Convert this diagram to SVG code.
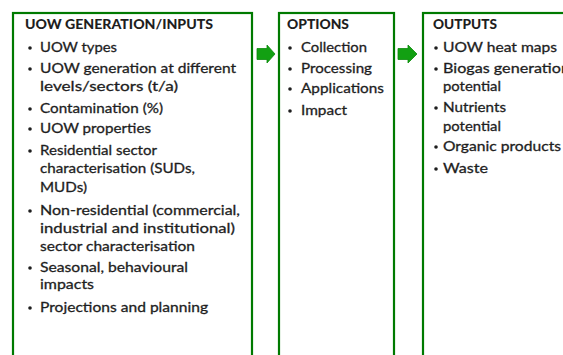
<svg xmlns="http://www.w3.org/2000/svg" width="563" height="355" viewBox="0 0 563 355">
<style>
.box{fill:#fff;stroke:#007a00;stroke-width:2.2}
.t{font-family:Lato,"Open Sans","Liberation Sans",sans-serif;font-size:14px;fill:#1e1e1e;stroke:#1e1e1e;stroke-width:0.3}
.h{font-family:Lato,"Open Sans","Liberation Sans",sans-serif;font-size:14px;font-weight:900;fill:#1e1e1e}
.b{fill:#1e1e1e}
.arr{fill:#12a012;stroke:#0b8a0b;stroke-width:0.8}
</style>
<rect width="563" height="355" fill="#fff"/>
<g id="inputs">
<rect class="box" x="13" y="13" width="239" height="360"/>
<text class="h" x="25" y="29" textLength="188" lengthAdjust="spacingAndGlyphs">UOW GENERATION/INPUTS</text>
<g class="b"><circle cx="30" cy="48" r="1.8"/><circle cx="30" cy="69" r="1.8"/><circle cx="30" cy="109" r="1.8"/><circle cx="30" cy="129" r="1.8"/><circle cx="30" cy="151" r="1.8"/><circle cx="30" cy="211" r="1.8"/><circle cx="30" cy="268" r="1.8"/><circle cx="30" cy="308" r="1.8"/></g>
<text class="t" x="40" y="52" textLength="77" lengthAdjust="spacingAndGlyphs">UOW types</text>
<text class="t" x="40" y="73" textLength="196" lengthAdjust="spacingAndGlyphs">UOW generation at different</text>
<text class="t" x="40" y="91" textLength="138" lengthAdjust="spacingAndGlyphs">levels/sectors (t/a)</text>
<text class="t" x="40" y="113" textLength="123" lengthAdjust="spacingAndGlyphs">Contamination (%)</text>
<text class="t" x="40" y="133" textLength="111" lengthAdjust="spacingAndGlyphs">UOW properties</text>
<text class="t" x="40" y="155" textLength="117" lengthAdjust="spacingAndGlyphs">Residential sector</text>
<text class="t" x="40" y="173" textLength="155" lengthAdjust="spacingAndGlyphs">characterisation (SUDs,</text>
<text class="t" x="40" y="192" textLength="47" lengthAdjust="spacingAndGlyphs">MUDs)</text>
<text class="t" x="40" y="215" textLength="200" lengthAdjust="spacingAndGlyphs">Non-residential (commercial,</text>
<text class="t" x="40" y="233" textLength="195" lengthAdjust="spacingAndGlyphs">industrial and institutional)</text>
<text class="t" x="40" y="251" textLength="155" lengthAdjust="spacingAndGlyphs">sector characterisation</text>
<text class="t" x="40" y="272" textLength="148" lengthAdjust="spacingAndGlyphs">Seasonal, behavioural</text>
<text class="t" x="40" y="289" textLength="54" lengthAdjust="spacingAndGlyphs">impacts</text>
<text class="t" x="40" y="312" textLength="168" lengthAdjust="spacingAndGlyphs">Projections and planning</text>
</g>
<g id="options">
<rect class="box" x="279" y="13" width="115" height="360"/>
<text class="h" x="287" y="29" textLength="62" lengthAdjust="spacingAndGlyphs">OPTIONS</text>
<g class="b"><circle cx="290" cy="48" r="1.8"/><circle cx="290" cy="69" r="1.8"/><circle cx="290" cy="89" r="1.8"/><circle cx="290" cy="111" r="1.8"/></g>
<text class="t" x="301" y="52" textLength="66" lengthAdjust="spacingAndGlyphs">Collection</text>
<text class="t" x="301" y="73" textLength="71" lengthAdjust="spacingAndGlyphs">Processing</text>
<text class="t" x="301" y="93" textLength="83" lengthAdjust="spacingAndGlyphs">Applications</text>
<text class="t" x="301" y="115" textLength="46" lengthAdjust="spacingAndGlyphs">Impact</text>
</g>
<g id="outputs">
<rect class="box" x="423" y="13" width="160" height="360"/>
<text class="h" x="433" y="29" textLength="64" lengthAdjust="spacingAndGlyphs">OUTPUTS</text>
<g class="b"><circle cx="436" cy="48" r="1.8"/><circle cx="436" cy="69" r="1.8"/><circle cx="436" cy="108" r="1.8"/><circle cx="436" cy="147" r="1.8"/><circle cx="436" cy="169" r="1.8"/></g>
<text class="t" x="443" y="52" textLength="114" lengthAdjust="spacingAndGlyphs">UOW heat maps</text>
<text class="t" x="443" y="73" textLength="127" lengthAdjust="spacingAndGlyphs">Biogas generation</text>
<text class="t" x="443" y="91" textLength="58" lengthAdjust="spacingAndGlyphs">potential</text>
<text class="t" x="443" y="112" textLength="63" lengthAdjust="spacingAndGlyphs">Nutrients</text>
<text class="t" x="443" y="131" textLength="58" lengthAdjust="spacingAndGlyphs">potential</text>
<text class="t" x="443" y="151" textLength="118" lengthAdjust="spacingAndGlyphs">Organic products</text>
<text class="t" x="443" y="173" textLength="45" lengthAdjust="spacingAndGlyphs">Waste</text>
</g>
<g id="connectors">
<path class="arr" d="M257,48.5 H267 V45 L275,54 L267,63 V59.5 H257 Z"/>
<path class="arr" d="M398,48.5 H408 V45 L417,54 L408,63 V59.5 H398 Z"/>
</g>
</svg>
